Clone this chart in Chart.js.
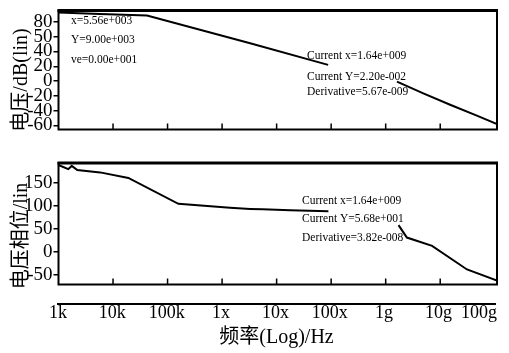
<!DOCTYPE html>
<html>
<head>
<meta charset="utf-8">
<script src="https://cdn.jsdelivr.net/npm/chart.js@4.4.0/dist/chart.umd.min.js"></script>
<style>
	html, body { margin: 0; padding: 0; background: #fff; }
	#wrap { position: relative; width: 509px; height: 353px; overflow: hidden; }
	canvas { position: absolute; left: 0; }
</style>
</head>
<body>
<div id="wrap">
	<canvas id="mag" width="509" height="140" style="top:0"></canvas>
	<canvas id="phase" width="509" height="145" style="top:150px"></canvas>
	<canvas id="freq" width="509" height="63" style="top:290px"></canvas>
</div>
<script>

//
// data
//

const xTickValues = [1e3, 1e4, 1e5, 1e6, 1e7, 1e8, 1e9, 1e10, 1e11];
const xTickLabels = ['1k', '10k', '100k', '1x', '10x', '100x', '1g', '10g', '100g'];

const magFreq = [1e3, 5.8e3, 4.2e4, 3.27e6, 8.8e7, 5e8, 1.61e9, 4.9e9, 1.52e10, 4.7e10, 1.1e11];
const magDb = [92.8, 90.8, 88.5, 51.2, 21.9, null, -0.8, -16.5, -31.9, -46.7, -58];
const magTickValues = [80, 60, 40, 20, 0, -20, -40, -60];
const magTickLabels = ['80', '50', '40', '20', '0', '-20', '-40', '-60'];

const phaseFreq = [1e3, 1.51e3, 1.75e3, 2.21e3, 5.8e3, 1.91e4, 1.58e5, 1.4e6, 3.27e6, 5.5e6, 1.77e7, 8.9e7, 5e8, 1.72e9, 2.45e9, 7.1e9, 3.1e10, 1.1e11];
const phaseDeg = [188, 179, 186, 177, 172, 160, 104, 95.5, 93, 92, 90, 88, null, 58, 31, 13, -38, -62];
const phaseTickValues = [150, 100, 50, 0, -50];
const phaseTickLabels = ['150', '100', '50', '0', '-50'];

const magCursorLeft = ['x=5.56e+003', 'Y=9.00e+003', 've=0.00e+001'];
const magCursorRight = ['Current x=1.64e+009', 'Current Y=2.20e-002', 'Derivative=5.67e-009'];
const phaseCursor = ['Current x=1.64e+009', 'Current Y=5.68e+001', 'Derivative=3.82e-008'];

const serif = '"Liberation Serif", "Noto Sans CJK SC", serif';

//
// helpers
//

function toPoints(xs, ys) {
	return xs.map((x, i) => ({x: x, y: ys[i]}));
}

// draws the box, inner decade ticks, cursor read-outs and the rotated title
//
function framePlugin(cfg) {
	return {
		id: 'frame',
		afterDraw: function(chart) {
			const ctx = chart.ctx;
			const a = chart.chartArea;
			const x = chart.scales.x;
			ctx.save();
			ctx.strokeStyle = '#000';
			ctx.lineWidth = 2;
			ctx.strokeRect(a.left, a.top, a.right - a.left, a.bottom - a.top);
			ctx.lineWidth = 3;
			ctx.beginPath();
			ctx.moveTo(a.left - 1, a.top);
			ctx.lineTo(a.right + 1, a.top);
			ctx.stroke();

			ctx.lineWidth = 1.5;
			ctx.beginPath();
			for (let i = 1; i < xTickValues.length - 1; i++) {
				let px = x.getPixelForValue(xTickValues[i]);
				ctx.moveTo(px, a.bottom);
				ctx.lineTo(px, a.bottom - 6);
			}
			ctx.stroke();

			ctx.fillStyle = '#000';
			ctx.font = '11.5px "Liberation Serif", serif';
			ctx.textAlign = 'left';
			ctx.textBaseline = 'middle';
			cfg.notes.forEach(function(note) {
				note.lines.forEach(function(text, i) {
					ctx.fillText(text, note.x, note.ys[i] - chart.canvas.offsetTop);
				});
			});

			ctx.font = '20px ' + serif;
			ctx.textAlign = 'center';
			ctx.translate(22, cfg.titleY - chart.canvas.offsetTop);
			ctx.rotate(-Math.PI / 2);
			ctx.fillText(cfg.title, 0, 0);
			ctx.restore();
		}
	};
}

function yAxis(min, max, values, labels) {
	return {
		min: min,
		max: max,
		afterFit: function(scale) { scale.width = 58.5; },
		afterBuildTicks: function(scale) {
			scale.ticks = values.map(v => ({value: v}));
		},
		grid: {
			display: true,
			drawOnChartArea: false,
			drawTicks: true,
			tickLength: 5,
			color: '#000',
			lineWidth: 1.5
		},
		border: {
			display: false
		},
		ticks: {
			autoSkip: false,
			padding: 1,
			color: '#000',
			font: {family: serif, size: 19, lineHeight: 1},
			callback: function(value) {
				return labels[values.indexOf(value)];
			}
		}
	};
}

function panel(id, xs, ys, yMin, yMax, tickValues, tickLabels, padding, plugin) {
	return new Chart(document.getElementById(id), {
		type: 'line',
		data: {
			datasets: [{
				data: toPoints(xs, ys),
				borderColor: '#000',
				borderWidth: 2,
				pointRadius: 0,
				tension: 0,
				fill: false,
				spanGaps: false
			}]
		},
		options: {
			responsive: false,
			animation: false,
			layout: {
				padding: padding
			},
			plugins: {
				legend: {display: false},
				tooltip: {enabled: false}
			},
			scales: {
				x: {
					type: 'logarithmic',
					min: 1e3,
					max: 1.1e11,
					display: false
				},
				y: yAxis(yMin, yMax, tickValues, tickLabels)
			}
		},
		plugins: [plugin]
	});
}

//
// charts
//

panel('mag', magFreq, magDb, -65.4, 95.4, magTickValues, magTickLabels,
	{top: 9, right: 12, bottom: 8.5, left: 0},
	framePlugin({
		title: '电压/dB(lin)',
		titleY: 80,
		notes: [
			{x: 71, ys: [21, 40, 60], lines: magCursorLeft},
			{x: 307, ys: [55.5, 76.7, 92.3], lines: magCursorRight}
		]
	}));

panel('phase', phaseFreq, phaseDeg, -70.5, 192.3, phaseTickValues, phaseTickLabels,
	{top: 13, right: 12, bottom: 9, left: 0},
	framePlugin({
		title: '电压相位/lin',
		titleY: 236,
		notes: [
			{x: 302, ys: [201, 219.3, 237.7], lines: phaseCursor}
		]
	}));

// shared frequency axis under both panels
//
new Chart(document.getElementById('freq'), {
	type: 'line',
	data: {datasets: []},
	options: {
		responsive: false,
		animation: false,
		layout: {
			autoPadding: false,
			padding: {top: 0, right: 14, bottom: 0, left: 58}
		},
		plugins: {
			legend: {display: false},
			tooltip: {enabled: false}
		},
		scales: {
			x: {
				type: 'logarithmic',
				min: 1e3,
				max: 1.1e11,
				position: 'bottom',
				afterFit: function(scale) { scale.height = 49; },
				grid: {display: true, drawOnChartArea: false, drawTicks: false},
				border: {display: true, color: '#000', width: 2},
				ticks: {display: false},
				title: {
					display: true,
					text: '频率(Log)/Hz',
					color: '#000',
					font: {family: serif, size: 20},
					padding: {top: 0, bottom: 3}
				}
			},
			y: {display: false}
		}
	},
	plugins: [{
		id: 'freqLabels',
		afterDraw: function(chart) {
			const ctx = chart.ctx;
			const x = chart.scales.x;
			const y = chart.chartArea.bottom + 9;
			ctx.save();
			ctx.fillStyle = '#000';
			ctx.font = '18px ' + serif;
			ctx.textAlign = 'center';
			ctx.textBaseline = 'middle';
			xTickValues.forEach(function(v, i) {
				let text = xTickLabels[i];
				let w = ctx.measureText(text).width;
				let px = x.getPixelForValue(v);
				px = Math.min(Math.max(px, w / 2 + 2), chart.width - 12 - w / 2);
				ctx.fillText(text, px, y);
			});
			ctx.restore();
		}
	}]
});
</script>
</body>
</html>
